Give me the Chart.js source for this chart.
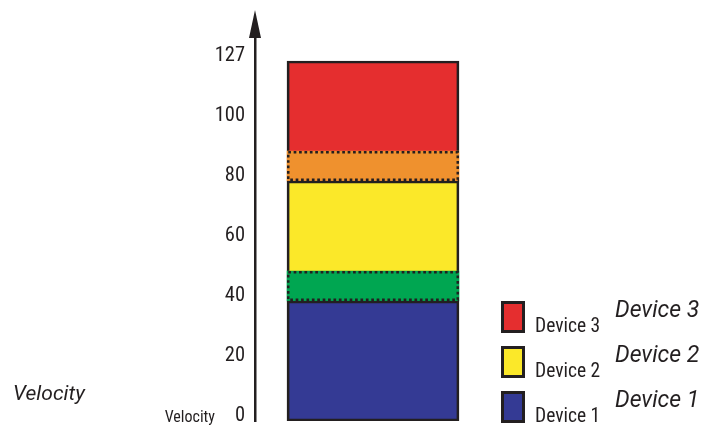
<!DOCTYPE html>
<html><head><meta charset="utf-8">
<style>html,body{margin:0;padding:0;background:#fff}#wrap{width:706px;height:426px;position:relative}</style>
<script src="https://cdn.jsdelivr.net/npm/chart.js@4.4.0/dist/chart.umd.min.js"></script>
</head><body><div id="wrap"><canvas id="c"></canvas></div>
<script>
// ---- data ----
const categories = ['Velocity layers'];
const segmentNames = ['Device 1', 'Device 1 / Device 2', 'Device 2', 'Device 2 / Device 3', 'Device 3'];
const segmentStart = [0, 40, 50, 80, 90];
const segmentEnd = [40, 50, 80, 90, 120];
const segmentColors = ['#343A94', '#00A651', '#FBE829', '#EF912E', '#E52E2F'];
const segmentDotted = [false, true, false, true, false];
const tickValues = [0, 20, 40, 60, 80, 100, 120];
const tickLabels = ['0', '20', '40', '60', '80', '100', '127'];
const legendNames = ['Device 3', 'Device 2', 'Device 1'];
const legendColors = ['#E52E2F', '#FBE829', '#343A94'];
const axisTitle = 'Velocity';

const INK = '#231F20';
const NARROW = "'Roboto Condensed', 'Liberation Sans Narrow', 'Liberation Sans', sans-serif";
const LIGHT = "Roboto, 'Liberation Sans', sans-serif";

const datasets = segmentNames.map((name, i) => ({
  label: name,
  data: [[segmentStart[i], segmentEnd[i]]],
  backgroundColor: segmentColors[i],
  borderColor: segmentDotted[i] ? 'rgba(0,0,0,0)' : INK,
  borderWidth: segmentDotted[i] ? 0 : 2.7,
  borderSkipped: i === 0 ? false : (segmentDotted[i] ? true : 'bottom'),
  dotted: segmentDotted[i]
}));

const dottedPlugin = {
  id: 'dotted',
  afterDatasetsDraw(chart) {
    const ctx = chart.ctx;
    chart.data.datasets.forEach((ds, i) => {
      if (!ds.dotted) return;
      const el = chart.getDatasetMeta(i).data[0];
      const p = el.getProps(['x', 'y', 'base', 'width'], true);
      const lw = 2.5;
      const left = p.x - p.width / 2, right = p.x + p.width / 2;
      const top = Math.min(p.y, p.base), bottom = Math.max(p.y, p.base);
      ctx.save();
      ctx.strokeStyle = INK;
      ctx.lineWidth = lw;
      ctx.setLineDash([2.7, 2.7]);
      ctx.strokeRect(left + lw / 2, top + lw / 2, right - left - lw, bottom - top - lw);
      ctx.restore();
    });
  }
};

const decorPlugin = {
  id: 'decor',
  afterDraw(chart) {
    const ctx = chart.ctx;
    const ys = chart.scales.y;
    const ax = chart.chartArea.left;
    const top = chart.chartArea.top;
    ctx.save();
    // arrow head
    ctx.fillStyle = INK;
    ctx.beginPath();
    ctx.moveTo(ax, 10);
    ctx.lineTo(ax - 6, top + 1);
    ctx.lineTo(ax + 6, top + 1);
    ctx.closePath();
    ctx.fill();
    // small axis caption next to 0
    ctx.font = '16px ' + NARROW;
    ctx.textAlign = 'right';
    ctx.textBaseline = 'alphabetic';
    ctx.fillText(axisTitle, 215, ys.getPixelForValue(0) + 1);
    // large italic caption
    ctx.textAlign = 'left';
    ctx.font = 'italic 400 21px ' + LIGHT;
    ctx.fillText(axisTitle, 13, 400);
    // legend
    const boxTops = [301, 346, 391];
    legendNames.forEach((name, i) => {
      const bx = 501, by = boxTops[i], bw = 24, bh = 32;
      ctx.fillStyle = INK;
      ctx.fillRect(bx, by, bw, bh);
      ctx.fillStyle = legendColors[i];
      ctx.fillRect(bx + 3, by + 3, bw - 6, bh - 6);
      ctx.fillStyle = INK;
      ctx.font = '19.5px ' + NARROW;
      ctx.textAlign = 'left';
      ctx.fillText(name, 535, by + bh - 1);
      ctx.font = 'italic 400 23px ' + LIGHT;
      ctx.fillText(name, 615, by + 16);
    });
    ctx.restore();
  }
};

new Chart(document.getElementById('c'), {
  type: 'bar',
  data: { labels: categories, datasets },
  plugins: [dottedPlugin, decorPlugin],
  options: {
    responsive: true,
    maintainAspectRatio: false,
    animation: false,
    layout: { padding: { top: 37, bottom: 5, left: 0, right: 215 } },
    datasets: { bar: { grouped: false, barThickness: 172 } },
    plugins: { legend: { display: false }, tooltip: { enabled: false } },
    scales: {
      x: { display: false, stacked: false },
      y: {
        min: 0, max: 128,
        afterFit(scale) { scale.width = 255; scale.paddingTop = 0; scale.paddingBottom = 0; },
        afterBuildTicks(scale) { scale.ticks = tickValues.map(v => ({ value: v })); },
        grid: { display: false, drawTicks: false },
        border: { display: true, color: INK, width: 2.5 },
        ticks: {
          padding: 10,
          labelOffset: -5,
          color: INK,
          font: { family: NARROW, size: 20.5 },
          callback: (value) => tickLabels[tickValues.indexOf(value)]
        }
      }
    }
  }
});
</script></body></html>
